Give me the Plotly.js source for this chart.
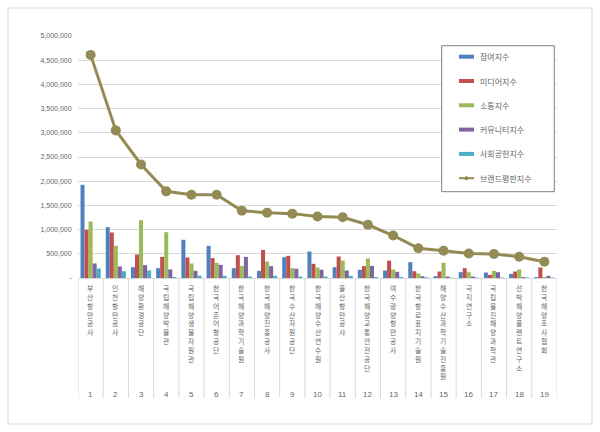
<!DOCTYPE html>
<html>
<head>
<meta charset="utf-8">
<script src="https://cdn.plot.ly/plotly-3.0.1.min.js"></script>
<style>html,body{margin:0;padding:0;background:#fff;}#chart{width:600px;height:432px;}</style>
</head>
<body>
<div id="chart"></div>
<script>
// ---- data ----
const categories = ["부산항만공사","인천항만공사","해양환경공단","국립해양박물관","국립해양생물자원관","한국어촌어항공단","한국해양과학기술원","한국해양진흥공사","한국수산자원공단","한국해양수산연수원","울산항만공사","한국해양교통안전공단","여수광양항만공사","한국항로표지기술원","해양수산과학기술진흥원","극지연구소","국립울진해양과학관","선박해양플랜트연구소","한국해양조사협회"];
const rankLabels = ["1","2","3","4","5","6","7","8","9","10","11","12","13","14","15","16","17","18","19"];
const seriesNames = ["참여지수","미디어지수","소통지수","커뮤니티지수","사회공헌지수","브랜드평판지수"];
const participation = [1925000,1050000,223000,203000,790000,665000,203000,148000,430000,547000,223000,170000,155000,327000,37000,120000,113000,86000,20000];
const media        = [995000,940000,485000,437000,423000,410000,470000,580000,458000,293000,444000,245000,360000,140000,134000,203000,65000,134000,217000];
const communication= [1167000,665000,1195000,947000,300000,314000,250000,340000,203000,217000,360000,403000,176000,93000,314000,120000,148000,176000,20000];
const community    = [300000,238000,265000,176000,148000,272000,437000,245000,190000,170000,155000,250000,128000,37000,30000,30000,120000,20000,45000];
const social       = [196000,140000,155000,20000,50000,45000,30000,45000,30000,30000,45000,20000,20000,15000,10000,10000,10000,10000,10000];
const brandIndex   = [4610000,3050000,2345000,1790000,1720000,1720000,1390000,1350000,1330000,1270000,1256000,1100000,878000,616000,562000,506000,495000,438000,335000];
const yTickVals = [0,500000,1000000,1500000,2000000,2500000,3000000,3500000,4000000,4500000,5000000];
const yTickLabels = ["-","500,000","1,000,000","1,500,000","2,000,000","2,500,000","3,000,000","3,500,000","4,000,000","4,500,000","5,000,000"];

// ---- style ----
const barColors = ["#4F81BD","#C0504D","#9BBB59","#8064A2","#4BACC6"];
const lineColor = "#948A54";
const textColor = "#666666";
const M = {l:78, r:43, t:36, b:154};
const W = 600, H = 432;
const PW = W - M.l - M.r, PH = H - M.t - M.b;
const px2x = x => (x - M.l) / PW;
const px2y = y => (H - M.b - y) / PH;

const barSeries = [participation, media, communication, community, social];
const traces = barSeries.map((vals, i) => ({
  type: 'bar', x: rankLabels, y: vals, name: seriesNames[i],
  marker: {color: barColors[i]}, hoverinfo: 'skip'
}));
traces.push({
  type: 'scatter', mode: 'lines+markers', x: rankLabels, y: brandIndex, name: seriesNames[5],
  line: {color: lineColor, width: 3}, marker: {color: lineColor, size: 10}
});

const shapes = [];
const annotations = [];
// outer chart border
shapes.push({type:'rect', xref:'paper', yref:'paper', x0:px2x(8), x1:px2x(592), y0:px2y(424), y1:px2y(8),
  line:{color:'#d9d9d9', width:1}, fillcolor:'rgba(0,0,0,0)', layer:'below'});
// category separators
for (let i = 0; i <= categories.length; i++) {
  shapes.push({type:'line', xref:'x', yref:'paper', x0:i-0.5, x1:i-0.5, y0:0, y1:px2y(398),
    line:{color:'#d9d9d9', width:1}});
}
// category names (stacked characters) and rank numbers
categories.forEach((name, i) => {
  annotations.push({xref:'x', yref:'paper', x:i, y:px2y(281.5), text:Array.from(name).join('<br>'), showarrow:false,
    xanchor:'center', yanchor:'top', align:'center', borderpad:0,
    font:{size:6.8, color:textColor, family:'Noto Sans CJK KR'}});
  annotations.push({xref:'x', yref:'paper', x:i, y:px2y(394), text:rankLabels[i], showarrow:false,
    xanchor:'center', yanchor:'middle', font:{size:8, color:textColor}});
});
// custom legend
shapes.push({type:'rect', xref:'paper', yref:'paper', x0:px2x(441.7), x1:px2x(554.3), y0:px2y(191.7), y1:px2y(45.7),
  line:{color:'#808080', width:1}, fillcolor:'#ffffff'});
seriesNames.forEach((nm, i) => {
  const cy = 56.7 + i*24.3;
  if (i < 5) {
    shapes.push({type:'rect', xref:'paper', yref:'paper', x0:px2x(459), x1:px2x(474), y0:px2y(cy+2), y1:px2y(cy-2),
      line:{width:0}, fillcolor:barColors[i]});
  } else {
    shapes.push({type:'line', xref:'paper', yref:'paper', x0:px2x(459), x1:px2x(474), y0:px2y(cy), y1:px2y(cy),
      line:{color:lineColor, width:2}});
    shapes.push({type:'circle', xref:'paper', yref:'paper', x0:px2x(464.5), x1:px2x(468.5), y0:px2y(cy+2), y1:px2y(cy-2),
      line:{width:0}, fillcolor:lineColor});
  }
  annotations.push({xref:'paper', yref:'paper', x:px2x(478), y:px2y(cy), text:nm, showarrow:false,
    xanchor:'left', yanchor:'middle', font:{size:8, color:textColor, family:'Noto Sans CJK KR'}});
});

const layout = {
  width: W, height: H,
  margin: M,
  paper_bgcolor: '#ffffff', plot_bgcolor: '#ffffff',
  font: {family: 'Liberation Sans, Noto Sans CJK KR', color: textColor, size: 7},
  showlegend: false,
  barmode: 'group', bargap: 0.2, bargroupgap: 0,
  xaxis: {type:'category', showticklabels:false, ticks:'', showgrid:false, zeroline:false,
    showline:true, linecolor:'#d9d9d9', linewidth:1, range:[-0.5, 18.5], fixedrange:true},
  yaxis: {range:[0, 5000000], tickvals:yTickVals, ticktext:yTickLabels, showgrid:true,
    gridcolor:'#d9d9d9', gridwidth:1, zeroline:false, showline:false,
    ticks:'outside', ticklen:4, tickcolor:'rgba(0,0,0,0)', tickfont:{size:7, color:textColor}, fixedrange:true},
  shapes: shapes,
  annotations: annotations
};

Plotly.newPlot('chart', traces, layout, {displayModeBar:false, staticPlot:true});
</script>
</body>
</html>
